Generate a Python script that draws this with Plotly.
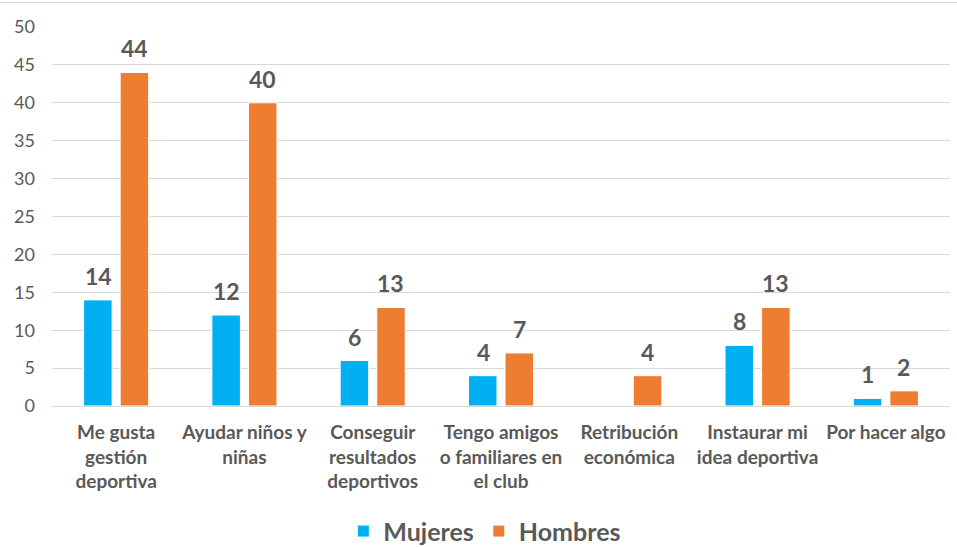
import plotly.graph_objects as go

categories = [
    "Me gusta<br>gestión<br>deportiva",
    "Ayudar niños y<br>niñas",
    "Conseguir<br>resultados<br>deportivos",
    "Tengo amigos<br>o familiares en<br>el club",
    "Retribución<br>económica",
    "Instaurar mi<br>idea deportiva",
    "Por hacer algo",
]
mujeres = [14, 12, 6, 4, 0, 8, 1]
hombres = [44, 40, 13, 7, 4, 13, 2]

C_MUJ = "#00B0F0"
C_HOM = "#ED7D31"
GREY = "#595959"
FONT = "Lato"

fig = go.Figure()
fig.add_trace(go.Bar(x=categories, y=mujeres, name="<b>Mujeres</b>",
                     marker=dict(color=C_MUJ, line=dict(color="white", width=1))))
fig.add_trace(go.Bar(x=categories, y=hombres, name="<b>Hombres</b>",
                     marker=dict(color=C_HOM, line=dict(color="white", width=1))))

# data labels above the bars
for cat, m, h in zip(categories, mujeres, hombres):
    for val, dx in ((m, -18), (h, 18)):
        if val:
            fig.add_annotation(x=cat, y=val, text=f"<b>{val}</b>", showarrow=False,
                               xshift=dx, yshift=8, yanchor="bottom",
                               font=dict(family=FONT, size=23, color=GREY))

fig.update_layout(
    width=957, height=547,
    margin=dict(l=52, r=7, t=27, b=141, autoexpand=False),
    plot_bgcolor="white", paper_bgcolor="white",
    barmode="group", bargap=0.43, bargroupgap=0.22,
    font=dict(family=FONT, color=GREY),
    legend=dict(orientation="h", x=0.482, xanchor="center", y=-0.27, yanchor="top",
                font=dict(family=FONT, size=25, color=GREY), itemwidth=30,
                traceorder="normal"),
    xaxis=dict(tickfont=dict(family=FONT, size=19, color=GREY), showgrid=False,
               showline=True, linecolor="#D9D9D9", linewidth=1, ticks="",
               automargin=False, tickprefix="<b>", ticksuffix="</b>",
               ticklabelstandoff=9),
    yaxis=dict(range=[0, 50], dtick=5, tickfont=dict(family=FONT, size=18, color=GREY),
               gridcolor="#D9D9D9", gridwidth=1, zeroline=False, ticklabelstandoff=16,
               automargin=False),
)
# light frame line at the top of the chart area
fig.add_shape(type="line", xref="paper", yref="paper",
              x0=-52 / 898, x1=1 + 7 / 898, y0=1 + 24.5 / 379, y1=1 + 24.5 / 379,
              line=dict(color="#DDDDDD", width=1))

fig.write_html("out.html", config={"displayModeBar": False},
               post_script="document.body.style.margin='0';")
